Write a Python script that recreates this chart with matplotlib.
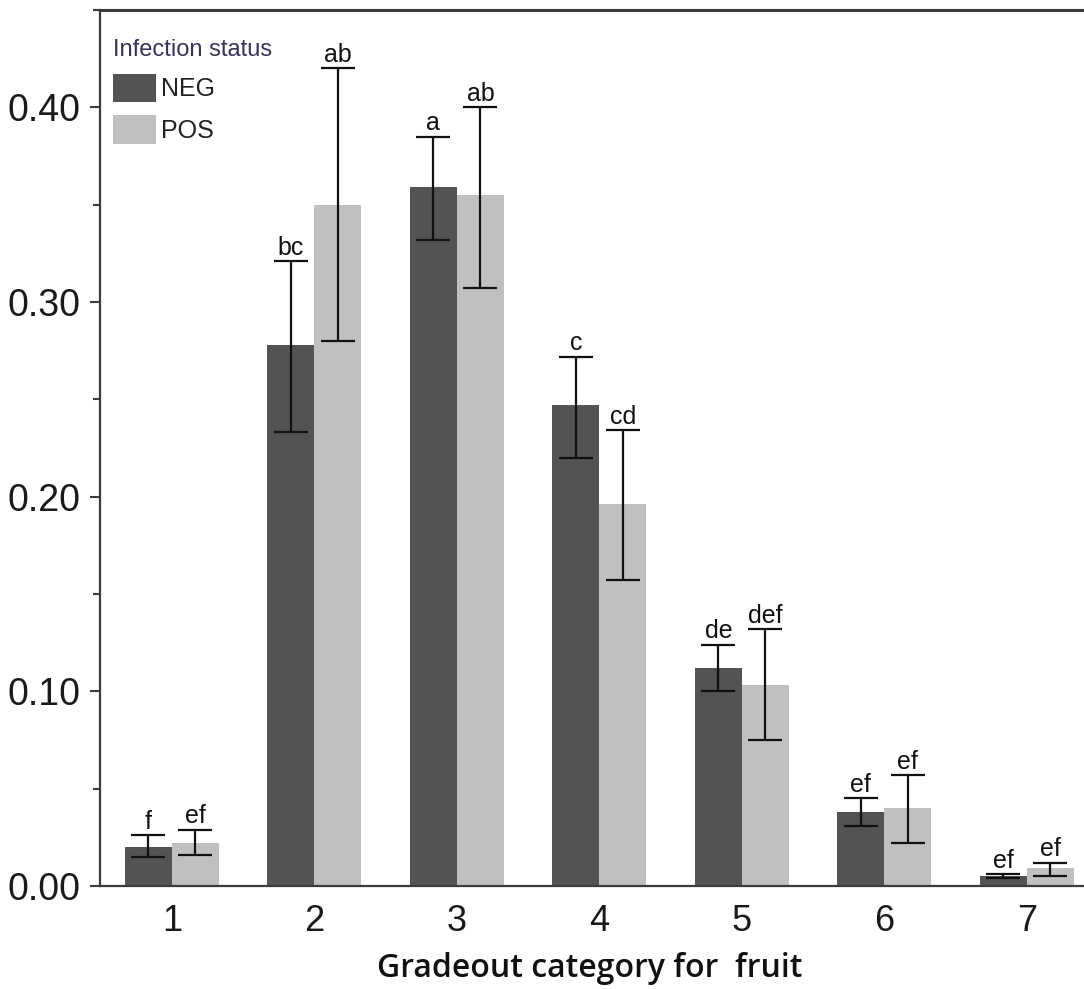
import matplotlib
matplotlib.use("Agg")
import matplotlib.pyplot as plt
import numpy as np
from matplotlib.ticker import MultipleLocator, FormatStrFormatter

# Mean proportion per gradeout category, by infection status
categories = ["1", "2", "3", "4", "5", "6", "7"]
neg_mean = [0.020, 0.278, 0.359, 0.247, 0.112, 0.038, 0.005]
neg_low = [0.015, 0.233, 0.332, 0.220, 0.100, 0.031, 0.004]
neg_high = [0.026, 0.321, 0.385, 0.272, 0.124, 0.045, 0.006]
pos_mean = [0.022, 0.350, 0.355, 0.196, 0.103, 0.040, 0.009]
pos_low = [0.016, 0.280, 0.307, 0.157, 0.075, 0.022, 0.005]
pos_high = [0.029, 0.420, 0.400, 0.234, 0.132, 0.057, 0.012]
neg_letters = ["f", "bc", "a", "c", "de", "ef", "ef"]
pos_letters = ["ef", "ab", "ab", "cd", "def", "ef", "ef"]

NEG_COLOR = "#535353"
POS_COLOR = "#c0c0c0"
AX_COLOR = "#3c3c3c"

plt.rcParams["font.family"] = ["Liberation Sans", "DejaVu Sans"]

fig = plt.figure(figsize=(10.84, 9.89), dpi=100)
ax = fig.add_axes([100 / 1084, 103 / 989, 998 / 1084, 876 / 989])

x = np.arange(1, len(categories) + 1)
w = 0.33

neg_err = [np.subtract(neg_mean, neg_low), np.subtract(neg_high, neg_mean)]
pos_err = [np.subtract(pos_mean, pos_low), np.subtract(pos_high, pos_mean)]

err_kw = dict(ecolor="#111111", elinewidth=1.6, capsize=12, capthick=1.6)
ax.bar(x - w / 2, neg_mean, w, color=NEG_COLOR, label="NEG",
       yerr=neg_err, error_kw=err_kw, zorder=2)
ax.bar(x + w / 2, pos_mean, w, color=POS_COLOR, label="POS",
       yerr=pos_err, error_kw=err_kw, zorder=2)

# Significance letters above each error bar
for xi, top, lab in zip(x - w / 2, neg_high, neg_letters):
    ax.annotate(lab, (xi, top), xytext=(0, 1), textcoords="offset points",
                ha="center", va="bottom", fontsize=18, color="#111111")
for xi, top, lab in zip(x + w / 2, pos_high, pos_letters):
    ax.annotate(lab, (xi, top), xytext=(0, 1), textcoords="offset points",
                ha="center", va="bottom", fontsize=18, color="#111111")

ax.set_xlim(0.495, 7.5)
ax.set_ylim(0, 0.45)
ax.set_xticks(x)
ax.set_xticklabels(categories)
ax.yaxis.set_major_locator(MultipleLocator(0.10))
ax.yaxis.set_minor_locator(MultipleLocator(0.05))
ax.yaxis.set_major_formatter(FormatStrFormatter("%.2f"))
ax.set_yticks([0.0, 0.1, 0.2, 0.3, 0.4])

ax.tick_params(axis="y", which="major", length=7, width=1.5, color=AX_COLOR,
               labelsize=27, labelcolor="#1a1a1a", pad=7)
ax.tick_params(axis="y", which="minor", length=5, width=1.5, color=AX_COLOR)
ax.tick_params(axis="x", length=0, labelsize=26, labelcolor="#1a1a1a", pad=13)

for side in ["left", "bottom", "top"]:
    ax.spines[side].set_color(AX_COLOR)
    ax.spines[side].set_linewidth(1.6)
ax.spines["top"].set_linewidth(2.2)
ax.spines["right"].set_visible(False)

ax.set_xlabel("Gradeout category for  fruit", fontsize=23, fontweight="semibold",
              family=["Open Sans", "DejaVu Sans"], color="#111111")
ax.xaxis.set_label_coords(490 / 998, -0.075)

leg = ax.legend(loc="upper left", bbox_to_anchor=(-0.009, 0.992), frameon=False,
                title="Infection status", fontsize=18, handlelength=1.7,
                handleheight=1.4, handletextpad=0.2, labelspacing=0.5,
                borderaxespad=0.2, borderpad=0.68, alignment="left")
leg.get_title().set_color("#3a3358")
leg.get_title().set_fontsize(17)
leg.get_title().set_family(["Liberation Sans Narrow", "Liberation Sans"])
for t in leg.get_texts():
    t.set_color("#222222")

fig.savefig("out.png", dpi=100)
